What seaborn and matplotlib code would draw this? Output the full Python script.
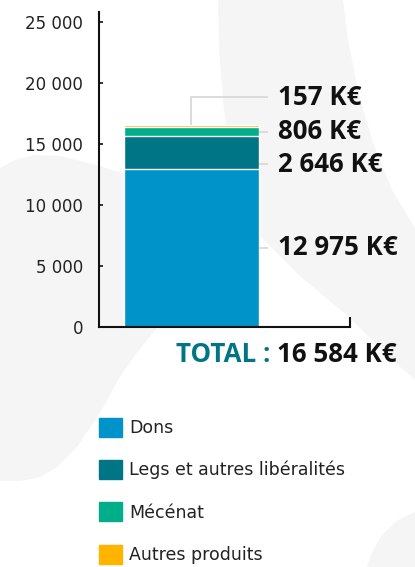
import numpy as np
import pandas as pd
import seaborn as sns
import matplotlib.pyplot as plt
from matplotlib.patches import Polygon, Patch
from matplotlib.ticker import FuncFormatter

# data
categories = ["Dons", "Legs et autres libéralités", "Mécénat", "Autres produits"]
values = [12975, 2646, 806, 157]
colors = ["#0093c9", "#007585", "#00ae8a", "#ffb400"]
y_ticks = [0, 5000, 10000, 15000, 20000, 25000]
group = "2023"


def fmt(v):
    return f"{v:,.0f}".replace(",", " ")


df = pd.DataFrame({"group": group, "segment": categories, "value": values})
df["top"] = df["value"].cumsum()
df["bottom"] = df["top"] - df["value"]
total = df["value"].sum()

sns.set_theme(style="white")
plt.rcParams["font.family"] = ["DejaVu Sans"]

W, H = 415, 567
fig = plt.figure(figsize=(W / 100, H / 100), dpi=100)
fig.patch.set_facecolor("white")

# decorative grey shapes in the background (pixel coords)
bg = fig.add_axes([0, 0, 1, 1], zorder=0)
bg.set_xlim(0, W)
bg.set_ylim(H, 0)
bg.axis("off")
grey = "#f5f5f5"
band = [(218, 0), (343, 0), (348, 40), (358, 90), (372, 140), (392, 190), (415, 228),
        (415, 380), (390, 358), (350, 318), (300, 276), (262, 238), (245, 212),
        (233, 170), (224, 110), (219, 50)]
blob = [(0, 168), (15, 160), (35, 155), (60, 156), (100, 166), (160, 185), (220, 205),
        (256, 228), (200, 285), (155, 330), (135, 355), (118, 380), (100, 413),
        (77, 447), (57, 467), (40, 477), (20, 481), (0, 481)]
corner = [(367, 567), (372, 552), (382, 535), (398, 520), (415, 512), (415, 567)]
for pts in (band, blob, corner):
    bg.add_patch(Polygon(pts, closed=True, facecolor=grey, edgecolor="none"))

# main chart
ax = fig.add_axes([99 / W, 1 - 327 / H, 251 / W, 315 / H], zorder=2)
ax.patch.set_alpha(0)

# stacked bar: draw cumulative tops from the tallest down
for i in reversed(range(len(df))):
    sns.barplot(data=df.iloc[[i]], x="group", y="top", color=colors[i],
                saturation=1, width=0.8, edgecolor="white", linewidth=1, ax=ax)

xmin, xmax = -0.549, 0.941
ax.set_xlim(xmin, xmax)
ax.set_ylim(0, 25820)
ax.set_xlabel("")
ax.set_ylabel("")

for side in ["top", "right"]:
    ax.spines[side].set_visible(False)
for side in ["left", "bottom"]:
    ax.spines[side].set_linewidth(1.5)
    ax.spines[side].set_color("#111111")

ax.set_yticks(y_ticks)
ax.yaxis.set_major_formatter(FuncFormatter(lambda v, p: fmt(v)))
ax.tick_params(axis="y", direction="in", length=3, width=1.2, color="#111111",
               pad=11.5, labelsize=12, labelcolor="#222222", left=True)
ax.set_xticks([xmax])
ax.tick_params(axis="x", direction="in", length=7, width=1.5, color="#111111",
               labelbottom=False, bottom=True)

# value labels with leader lines
bar_right = 0.4
px = (xmax - xmin) / 251
line_end = bar_right + 9 * px
text_x = bar_right + 19 * px
lab_font = dict(family=["Open Sans", "DejaVu Sans"], weight="bold", size=18.6,
                color="#111111")
lead = dict(color="#d6d6d6", lw=1.2, solid_capstyle="butt", zorder=1)

label_y = list((df["top"] + df["bottom"]) / 2)
label_y[3] = total + 2250
for i in (2, 1, 0):
    label_y[i] = min(label_y[i], label_y[i + 1] - 2700)

for i, row in df.iterrows():
    y = label_y[i]
    if i == 3:
        ax.plot([0, 0, line_end], [row["top"], y, y], **lead)
    else:
        ax.plot([bar_right, line_end], [y, y], **lead)
    ax.text(text_x, y, f"{fmt(row['value'])} K€", ha="left", va="center", **lab_font)

# total line
t = fig.text(397 / W, 1 - 355 / H, f"{fmt(total)} K€", ha="right", va="center", **lab_font)
ax.annotate("TOTAL :", xy=(0, 0.5), xycoords=t, xytext=(-5, 0), textcoords="offset points",
            ha="right", va="center", family=["Open Sans", "DejaVu Sans"], weight="bold",
            size=18.6, color="#007585")

# legend
handles = [Patch(facecolor=c, edgecolor=c, label=l) for l, c in zip(categories, colors)]
fig.legend(handles=handles, loc="upper left", bbox_to_anchor=(99 / W, 1 - 418 / H),
           frameon=False, fontsize=12.5, handlelength=1.3, handleheight=1.3,
           handletextpad=0.45, labelspacing=1.32, borderpad=0, borderaxespad=0,
           labelcolor="#222222")

fig.savefig("out.png", dpi=100)
